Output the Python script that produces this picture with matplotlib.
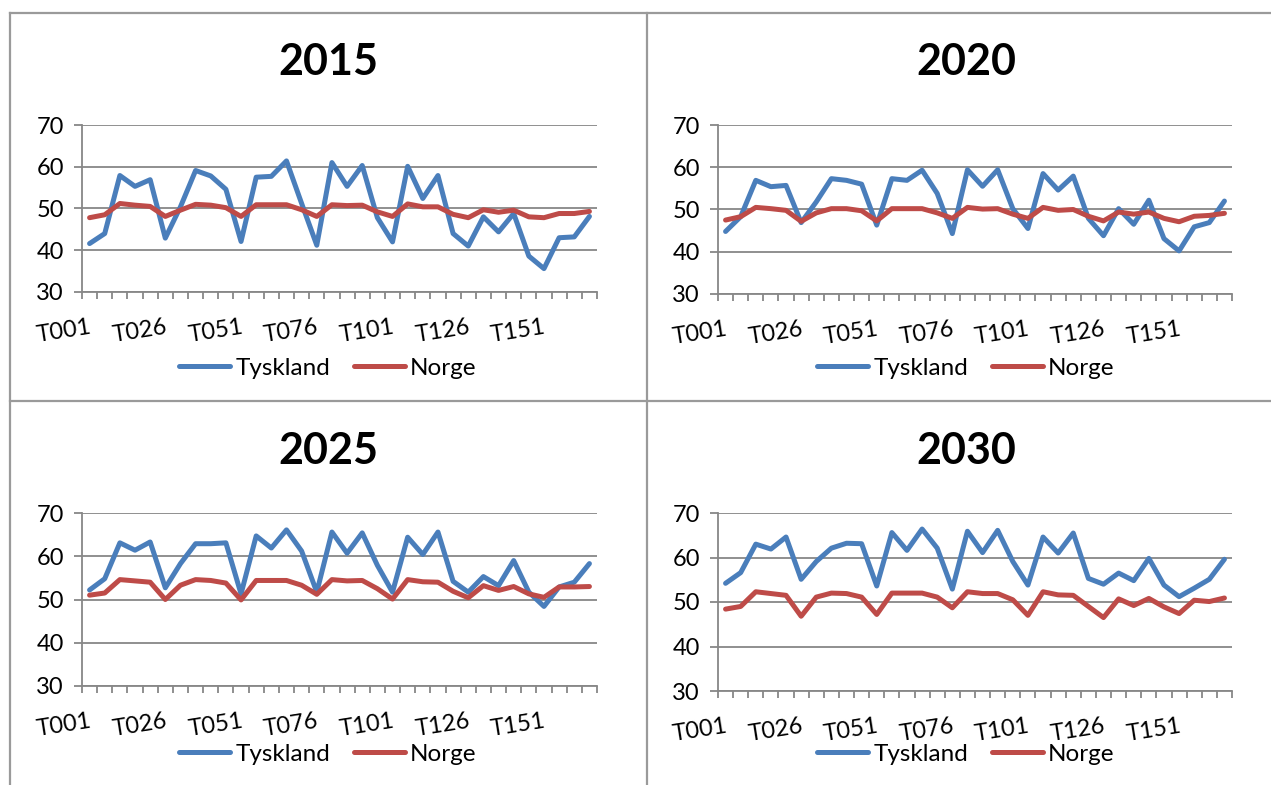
import matplotlib.pyplot as plt
from matplotlib.lines import Line2D

plt.rcParams['font.family'] = ['Lato', 'DejaVu Sans']

periods = ['T001', 'T006', 'T011', 'T016', 'T021', 'T026', 'T031', 'T036', 'T041', 'T046',
           'T051', 'T056', 'T061', 'T066', 'T071', 'T076', 'T081', 'T086', 'T091', 'T096',
           'T101', 'T106', 'T111', 'T116', 'T121', 'T126', 'T131', 'T136', 'T141', 'T146',
           'T151', 'T156', 'T161', 'T166']
shown_labels = ['T001', 'T026', 'T051', 'T076', 'T101', 'T126', 'T151']
years = ['2015', '2020', '2025', '2030']

tyskland_2015 = [41.6, 44.0, 57.9, 55.3, 56.9, 42.9, 50.4, 59.1, 57.8, 54.6,
                 42.1, 57.5, 57.7, 61.4, 51.2, 41.2, 61.0, 55.3, 60.3, 47.8,
                 42.0, 60.1, 52.4, 57.9, 44.0, 41.0, 48.0, 44.4, 48.8, 38.6,
                 35.6, 43.0, 43.2, 48.1]
norge_2015 = [47.8, 48.5, 51.2, 50.8, 50.5, 48.1, 49.6, 51.0, 50.8, 50.2,
              48.1, 50.9, 50.9, 50.9, 49.7, 48.1, 50.9, 50.7, 50.8, 49.2,
              48.1, 51.1, 50.4, 50.4, 48.6, 47.8, 49.7, 49.1, 49.6, 48.0,
              47.8, 48.8, 48.8, 49.3]

tyskland_2020 = [44.8, 48.3, 56.9, 55.4, 55.7, 46.9, 51.8, 57.3, 56.9, 56.0,
                 46.3, 57.3, 56.9, 59.3, 53.8, 44.3, 59.4, 55.5, 59.4, 50.2,
                 45.5, 58.5, 54.6, 57.9, 47.9, 43.8, 50.2, 46.5, 52.2, 43.1,
                 40.2, 45.9, 46.9, 52.0]
norge_2020 = [47.5, 48.3, 50.5, 50.2, 49.8, 47.2, 49.2, 50.2, 50.2, 49.7,
              47.3, 50.2, 50.2, 50.2, 49.2, 47.9, 50.5, 50.1, 50.2, 48.9,
              47.9, 50.5, 49.8, 50.0, 48.4, 47.3, 49.4, 48.9, 49.4, 47.9,
              47.1, 48.4, 48.6, 49.1]

tyskland_2025 = [52.2, 54.8, 63.1, 61.4, 63.3, 52.7, 58.3, 62.9, 62.9, 63.1,
                 51.3, 64.7, 61.9, 66.1, 61.2, 51.7, 65.6, 60.7, 65.4, 57.9,
                 51.7, 64.4, 60.4, 65.6, 54.2, 51.7, 55.3, 53.2, 59.0, 51.7,
                 48.4, 52.9, 54.0, 58.3]
norge_2025 = [51.0, 51.5, 54.6, 54.3, 54.0, 50.0, 53.3, 54.6, 54.4, 53.8,
              49.9, 54.4, 54.4, 54.4, 53.3, 51.2, 54.6, 54.3, 54.4, 52.5,
              50.1, 54.6, 54.1, 54.0, 51.9, 50.4, 53.2, 52.1, 53.0, 51.3,
              50.5, 52.9, 52.9, 53.0]

tyskland_2030 = [54.2, 56.6, 63.0, 61.9, 64.6, 55.1, 59.1, 62.1, 63.2, 63.1,
                 53.6, 65.6, 61.6, 66.4, 62.1, 52.9, 65.9, 61.1, 66.1, 59.1,
                 53.8, 64.6, 61.0, 65.5, 55.3, 54.0, 56.5, 54.8, 59.8, 53.8,
                 51.2, 53.1, 55.1, 59.6]
norge_2030 = [48.4, 49.0, 52.3, 51.9, 51.5, 46.8, 51.1, 52.0, 51.9, 51.1,
              47.2, 52.0, 52.0, 52.0, 51.1, 48.7, 52.3, 51.9, 51.9, 50.5,
              47.0, 52.3, 51.6, 51.5, 49.0, 46.5, 50.7, 49.2, 50.8, 48.9,
              47.4, 50.4, 50.1, 50.9]

W, H = 1271, 785
BLUE = '#4A7EBB'
RED = '#BE4B48'
GRID = '#878787'
BORDER = '#9a9a9a'

fig = plt.figure(figsize=(W / 100, H / 100), dpi=100)

# panel layout in pixels: axes box (left, right, top, bottom) and panel centre / title / legend rows
panels = [
    dict(box=(82, 597, 125, 292), cx=328, title_y=62, legend_y=368),
    dict(box=(718, 1232, 125, 294), cx=966, title_y=62, legend_y=368),
    dict(box=(82, 597, 513, 686), cx=328, title_y=451, legend_y=754),
    dict(box=(718, 1232, 513, 691), cx=966, title_y=451, legend_y=754),
]
series = [(tyskland_2015, norge_2015), (tyskland_2020, norge_2020),
          (tyskland_2025, norge_2025), (tyskland_2030, norge_2030)]

x = list(range(len(periods)))
label_pos = [periods.index(p) for p in shown_labels]

for year, (de, no), p in zip(years, series, panels):
    l, r, t, b = p['box']
    ax = fig.add_axes([l / W, 1 - b / H, (r - l) / W, (b - t) / H])
    ax.plot(x, de, color=BLUE, lw=3.6, solid_joinstyle='round', solid_capstyle='round', zorder=3)
    ax.plot(x, no, color=RED, lw=3.6, solid_joinstyle='round', solid_capstyle='round', zorder=3)

    ax.set_xlim(-0.5, len(periods) - 0.5)
    ax.set_ylim(30, 70)
    ax.set_yticks([30, 40, 50, 60, 70])
    ax.yaxis.grid(True, color=GRID, lw=1.3)
    ax.set_axisbelow(True)
    for s in ['top', 'right']:
        ax.spines[s].set_visible(False)
    for s in ['left', 'bottom']:
        ax.spines[s].set_color(GRID)
        ax.spines[s].set_linewidth(1.3)

    ax.tick_params(axis='y', length=6, width=1.3, color=GRID, labelsize=17, pad=7)
    ax.set_xticks(label_pos)
    ax.set_xticklabels(shown_labels, rotation=9, ha='right', va='top', rotation_mode='anchor')
    ax.set_xticks([i - 0.5 for i in range(len(periods) + 1)], minor=True)
    ax.tick_params(axis='x', which='major', length=0, labelsize=17, pad=18)
    ax.tick_params(axis='x', which='minor', length=5, width=1.3, color=GRID)

    fig.text(p['cx'] / W, 1 - p['title_y'] / H, year, ha='center', va='center',
             fontsize=31, fontweight='bold')

    handles = [Line2D([], [], color=BLUE, lw=3.6, solid_capstyle='round'),
               Line2D([], [], color=RED, lw=3.6, solid_capstyle='round')]
    fig.legend(handles, ['Tyskland', 'Norge'], loc='center',
               bbox_to_anchor=(p['cx'] / W, 1 - p['legend_y'] / H), ncol=2,
               frameon=False, fontsize=17.5, handlelength=2.1, handletextpad=0.2,
               columnspacing=1.0, borderpad=0, borderaxespad=0)

# chart area borders
fig.add_artist(Line2D([9.5 / W, 1], [1 - 12.5 / H] * 2, color=BORDER, lw=1.6))
fig.add_artist(Line2D([9.5 / W, 1], [1 - 400.5 / H] * 2, color=BORDER, lw=1.6))
fig.add_artist(Line2D([9.5 / W] * 2, [0, 1 - 12.5 / H], color=BORDER, lw=1.6))
fig.add_artist(Line2D([647 / W] * 2, [0, 1 - 12.5 / H], color=BORDER, lw=1.6))

fig.savefig('out.png', dpi=100, facecolor='white')
